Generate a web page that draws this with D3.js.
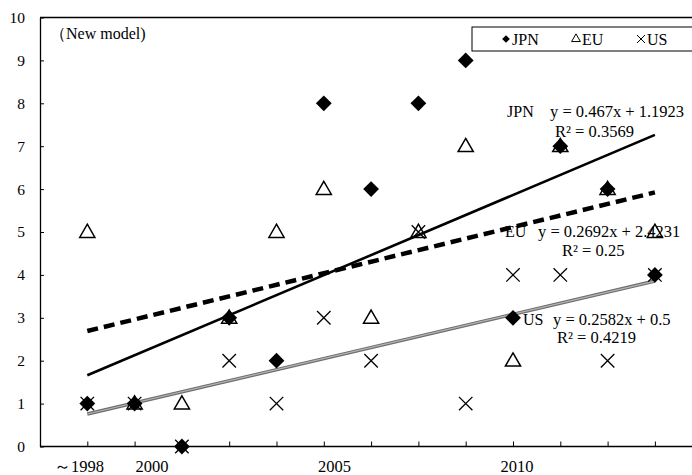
<!DOCTYPE html>
<html>
<head>
<meta charset="utf-8">
<script src="https://cdn.jsdelivr.net/npm/d3@7"></script>
<style>
  body { margin: 0; background: #fff; }
  text { font-family: "Liberation Serif", "Times New Roman", serif; fill: #000; }
</style>
</head>
<body>
<div id="graph-container"></div>
<script>
// Data
var periods = [1, 2, 3, 4, 5, 6, 7, 8, 9, 10, 11, 12, 13];
var jpnValues = [1, 1, 0, 3, 2, 8, 6, 8, 9, 3, 7, 6, 4];
var euValues = [5, 1, 1, 3, 5, 6, 3, 5, 7, 2, 7, 6, 5];
var usValues = [1, 1, 0, 2, 1, 3, 2, 5, 1, 4, 4, 2, 4];
var yTicks = [0, 1, 2, 3, 4, 5, 6, 7, 8, 9, 10];
var yearLabels = ["～1998", "2000", "2005", "2010"];
var yearValues = [1998, 2000, 2005, 2010];
// Trend lines (slope, intercept, r2)
var trends = [
  { name: "JPN", slope: 0.467, intercept: 1.1923, eq: "y = 0.467x + 1.1923", r2: "R² = 0.3569" },
  { name: "EU", slope: 0.2692, intercept: 2.4231, eq: "y = 0.2692x + 2.4231", r2: "R² = 0.25" },
  { name: "US", slope: 0.2582, intercept: 0.5, eq: "y = 0.2582x + 0.5", r2: "R² = 0.4219" }
];

var svgWidth = 692;
var svgHeight = 475;

var svg = d3.select("#graph-container")
  .append("svg")
  .attr("width", svgWidth)
  .attr("height", svgHeight);

// Scales
var xScale = d3.scaleLinear().domain([0, 14]).range([40, 40 + 14 * 47.3]);
var yScale = d3.scaleLinear().domain([0, 10]).range([446.5, 17.5]);
var yearScale = d3.scaleLinear().domain([1998, 2010]).range([79, 517]);

// Frame: left axis, bottom axis, top border
svg.append("line")
  .attr("x1", xScale(0)).attr("x2", svgWidth)
  .attr("y1", yScale(10)).attr("y2", yScale(10))
  .attr("stroke", "#000").attr("stroke-width", 1.3);

var xAxis = d3.axisBottom(xScale)
  .tickValues(periods)
  .tickSizeInner(-5)
  .tickSizeOuter(0)
  .tickFormat("");
var gx = svg.append("g")
  .attr("transform", "translate(0," + yScale(0) + ")")
  .call(xAxis);
gx.select(".domain").attr("d", "M" + xScale(0) + ",0H" + svgWidth).attr("stroke-width", 1.3);

var yAxis = d3.axisLeft(yScale)
  .tickValues(yTicks)
  .tickSizeInner(-4)
  .tickSizeOuter(0)
  .tickPadding(15);
var gy = svg.append("g")
  .attr("transform", "translate(" + xScale(0) + ",0)")
  .call(yAxis);
gy.select(".domain").attr("stroke-width", 1.3);
gy.selectAll("text")
  .style("font-family", "Liberation Serif")
  .style("font-size", "15.5px");

// Year labels
svg.selectAll(".year-label")
  .data(yearValues)
  .enter()
  .append("text")
  .attr("class", "year-label")
  .attr("x", function (d) { return yearScale(d); })
  .attr("y", 472)
  .attr("text-anchor", "middle")
  .style("font-size", "16.5px")
  .text(function (d, i) { return yearLabels[i]; });

// Trend lines
function trendPoints(t) {
  return [1, 13].map(function (x) { return [x, t.slope * x + t.intercept]; });
}
var line = d3.line()
  .x(function (d) { return xScale(d[0]); })
  .y(function (d) { return yScale(d[1]); });

svg.append("path")
  .datum(trendPoints(trends[2]))
  .attr("fill", "none").attr("stroke", "#6e6e6e").attr("stroke-width", 3.5)
  .attr("d", line);
svg.append("path")
  .datum(trendPoints(trends[2]))
  .attr("fill", "none").attr("stroke", "#b4b4b4").attr("stroke-width", 1.2)
  .attr("d", line);
svg.append("path")
  .datum(trendPoints(trends[1]))
  .attr("fill", "none").attr("stroke", "#000").attr("stroke-width", 4.5)
  .attr("stroke-dasharray", "11,6")
  .attr("d", line);
svg.append("path")
  .datum(trendPoints(trends[0]))
  .attr("fill", "none").attr("stroke", "#000").attr("stroke-width", 2.6)
  .attr("d", line);

// Markers
var diamond = d3.symbol().type(d3.symbolSquare).size(125);
var triangle = d3.symbol().type(d3.symbolTriangle).size(100);

svg.selectAll(".eu")
  .data(euValues)
  .enter()
  .append("path")
  .attr("class", "eu")
  .attr("d", triangle)
  .attr("transform", function (d, i) { return "translate(" + xScale(periods[i]) + "," + (yScale(d) + 1) + ")"; })
  .attr("fill", "none").attr("stroke", "#000").attr("stroke-width", 1.5);

svg.selectAll(".jpn")
  .data(jpnValues)
  .enter()
  .append("path")
  .attr("class", "jpn")
  .attr("d", diamond)
  .attr("transform", function (d, i) { return "translate(" + xScale(periods[i]) + "," + yScale(d) + ") rotate(45)"; })
  .attr("fill", "#000");

svg.selectAll(".us")
  .data(usValues)
  .enter()
  .append("path")
  .attr("class", "us")
  .attr("d", d3.symbol().type(d3.symbolX).size(120))
  .attr("transform", function (d, i) { return "translate(" + xScale(periods[i]) + "," + yScale(d) + ")"; })
  .attr("fill", "none").attr("stroke", "#000").attr("stroke-width", 1.3);

// Model note
svg.append("text")
  .attr("x", 50).attr("y", 39)
  .style("font-size", "16px")
  .text("（New model)");

// Legend
var legend = svg.append("g");
legend.append("rect")
  .attr("x", 472).attr("y", 27)
  .attr("width", 240).attr("height", 24)
  .attr("fill", "#fff").attr("stroke", "#000").attr("stroke-width", 1);
var legendItems = [
  { name: "JPN", x: 506, sym: d3.symbol().type(d3.symbolSquare).size(30), rot: 45, fill: "#000" },
  { name: "EU", x: 576, sym: d3.symbol().type(d3.symbolTriangle).size(34), rot: 0, fill: "none" },
  { name: "US", x: 641, sym: d3.symbol().type(d3.symbolX).size(44), rot: 0, fill: "none" }
];
legendItems.forEach(function (d) {
  legend.append("path")
    .attr("d", d.sym)
    .attr("transform", "translate(" + d.x + ",39) rotate(" + d.rot + ")")
    .attr("fill", d.fill)
    .attr("stroke", d.fill === "none" ? "#000" : "none")
    .attr("stroke-width", 1);
  legend.append("text")
    .attr("x", d.x + 6).attr("y", 44.5)
    .style("font-size", "16px")
    .text(d.name);
});

// Trend labels
var labelPos = [
  { nameX: 507, eqX: 550, r2X: 555, y1: 117, y2: 137 },
  { nameX: 505, eqX: 538, r2X: 562, y1: 237, y2: 256 },
  { nameX: 523, eqX: 553, r2X: 557, y1: 325, y2: 343 }
];
trends.forEach(function (t, i) {
  var p = labelPos[i];
  svg.append("text").attr("x", p.nameX).attr("y", p.y1).style("font-size", "16px").text(t.name);
  svg.append("text").attr("x", p.eqX).attr("y", p.y1).style("font-size", "16.5px").text(t.eq);
  svg.append("text").attr("x", p.r2X).attr("y", p.y2).style("font-size", "16.5px").text(t.r2);
});
</script>
</body>
</html>
